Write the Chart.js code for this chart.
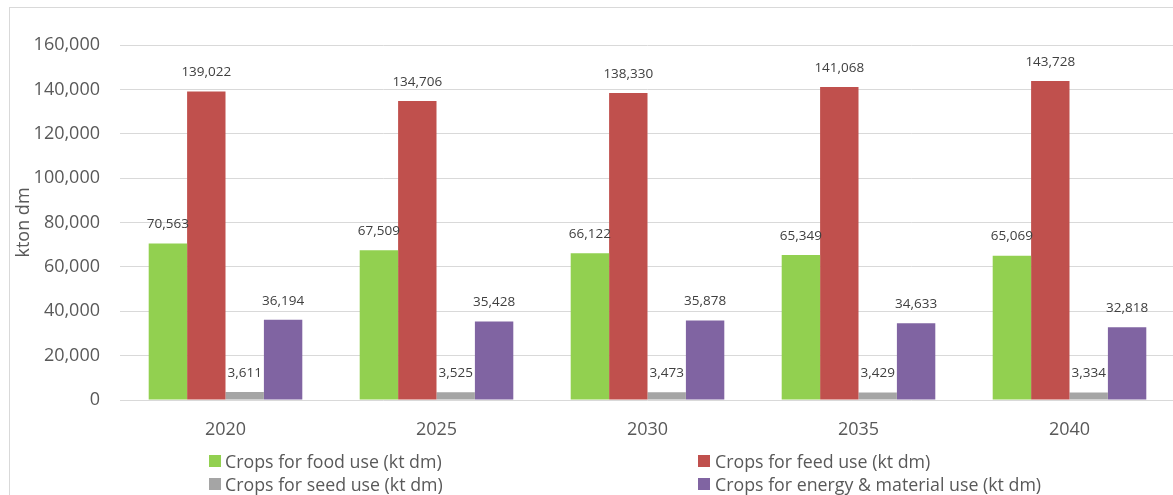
<!DOCTYPE html>
<html>
<head>
<meta charset="utf-8">
<script src="https://cdn.jsdelivr.net/npm/chart.js@4/dist/chart.umd.min.js"></script>
<style>
  html, body { margin: 0; padding: 0; background: #ffffff; overflow: hidden; }
  #wrap { position: relative; width: 1173px; height: 495px; overflow: hidden; }
  #frame { position: absolute; left: 9px; top: 7px; width: 1300px; height: 700px; border: 1px solid #d9d9d9; box-sizing: border-box; }
  #chart { position: absolute; left: 0; top: 0; }
  .lg { position: absolute; font-family: "Open Sans", sans-serif; font-size: 17.8px; color: #595959; white-space: nowrap; line-height: 22px; }
  .lg .box { position: absolute; width: 12px; height: 12px; top: 5px; }
</style>
</head>
<body>
<div id="wrap">
  <div id="frame"></div>
  <canvas id="chart" width="1180" height="495"></canvas>
  <div id="legend"></div>
</div>
<script>
// Years on the category axis
const years = ['2020', '2025', '2030', '2035', '2040'];

// Crop use by purpose, kton dry matter
const foodUse   = [70563, 67509, 66122, 65349, 65069];
const feedUse   = [139022, 134706, 138330, 141068, 143728];
const seedUse   = [3611, 3525, 3473, 3429, 3334];
const energyUse = [36194, 35428, 35878, 34633, 32818];

const seriesNames = [
  'Crops for food use (kt dm)',
  'Crops for feed use (kt dm)',
  'Crops for seed use (kt dm)',
  'Crops for energy & material use (kt dm)'
];
const seriesColors = ['#92D050', '#C0504D', '#A5A5A5', '#8064A2'];

const fmt = v => v.toLocaleString('en-US');

// Value labels above each bar
const valueLabels = {
  id: 'valueLabels',
  afterDatasetsDraw(chart) {
    const ctx = chart.ctx;
    ctx.save();
    ctx.font = '13.5px "Open Sans", sans-serif';
    ctx.fillStyle = '#404040';
    ctx.textAlign = 'center';
    ctx.textBaseline = 'middle';
    chart.data.datasets.forEach((ds, i) => {
      const meta = chart.getDatasetMeta(i);
      meta.data.forEach((bar, j) => {
        ctx.fillText(fmt(ds.data[j]), bar.x, bar.y - 19);
      });
    });
    ctx.restore();
  }
};

const datasets = [foodUse, feedUse, seedUse, energyUse].map((d, i) => ({
  label: seriesNames[i],
  data: d,
  backgroundColor: seriesColors[i],
  borderWidth: 0,
  barPercentage: 1.0,
  categoryPercentage: 0.728
}));

const chart = new Chart(document.getElementById('chart'), {
  type: 'bar',
  data: { labels: years, datasets },
  plugins: [valueLabels],
  options: {
    responsive: false,
    animation: false,
    layout: { padding: { left: 0, top: 45, right: 5, bottom: 0 } },
    plugins: {
      legend: { display: false },
      tooltip: { enabled: false }
    },
    scales: {
      x: {
        grid: { display: false, drawTicks: false },
        border: { display: false },
        ticks: {
          color: '#595959',
          padding: 19,
          font: { family: '"Open Sans", sans-serif', size: 18 }
        },
        afterFit(scale) { scale.height = 95; }
      },
      y: {
        min: 0,
        max: 160000,
        grid: { color: '#d9d9d9', lineWidth: 1, drawTicks: false },
        border: { display: false },
        ticks: {
          stepSize: 20000,
          color: '#595959',
          padding: 20,
          font: { family: '"Open Sans", sans-serif', size: 18 },
          callback: v => fmt(v)
        },
        title: {
          display: true,
          text: 'kton dm',
          color: '#595959',
          padding: { top: 13, bottom: 0 },
          font: { family: '"Open Sans", sans-serif', size: 18 }
        },
        afterFit(scale) { scale.width = 120; }
      }
    }
  }
});

// Two-column legend below the plot
const legendEl = document.getElementById('legend');
const cols = [{ box: 209, text: 225 }, { box: 698, text: 715 }];
const rows = [450, 473];
chart.data.datasets.forEach((ds, i) => {
  const c = cols[i % 2], r = rows[Math.floor(i / 2)];
  const item = document.createElement('div');
  item.className = 'lg';
  item.style.left = c.box + 'px';
  item.style.top = r + 'px';
  const box = document.createElement('span');
  box.className = 'box';
  box.style.left = '0px';
  box.style.background = ds.backgroundColor;
  const txt = document.createElement('span');
  txt.style.position = 'absolute';
  txt.style.left = (c.text - c.box) + 'px';
  txt.textContent = ds.label;
  item.appendChild(box);
  item.appendChild(txt);
  legendEl.appendChild(item);
});
</script>
</body>
</html>
